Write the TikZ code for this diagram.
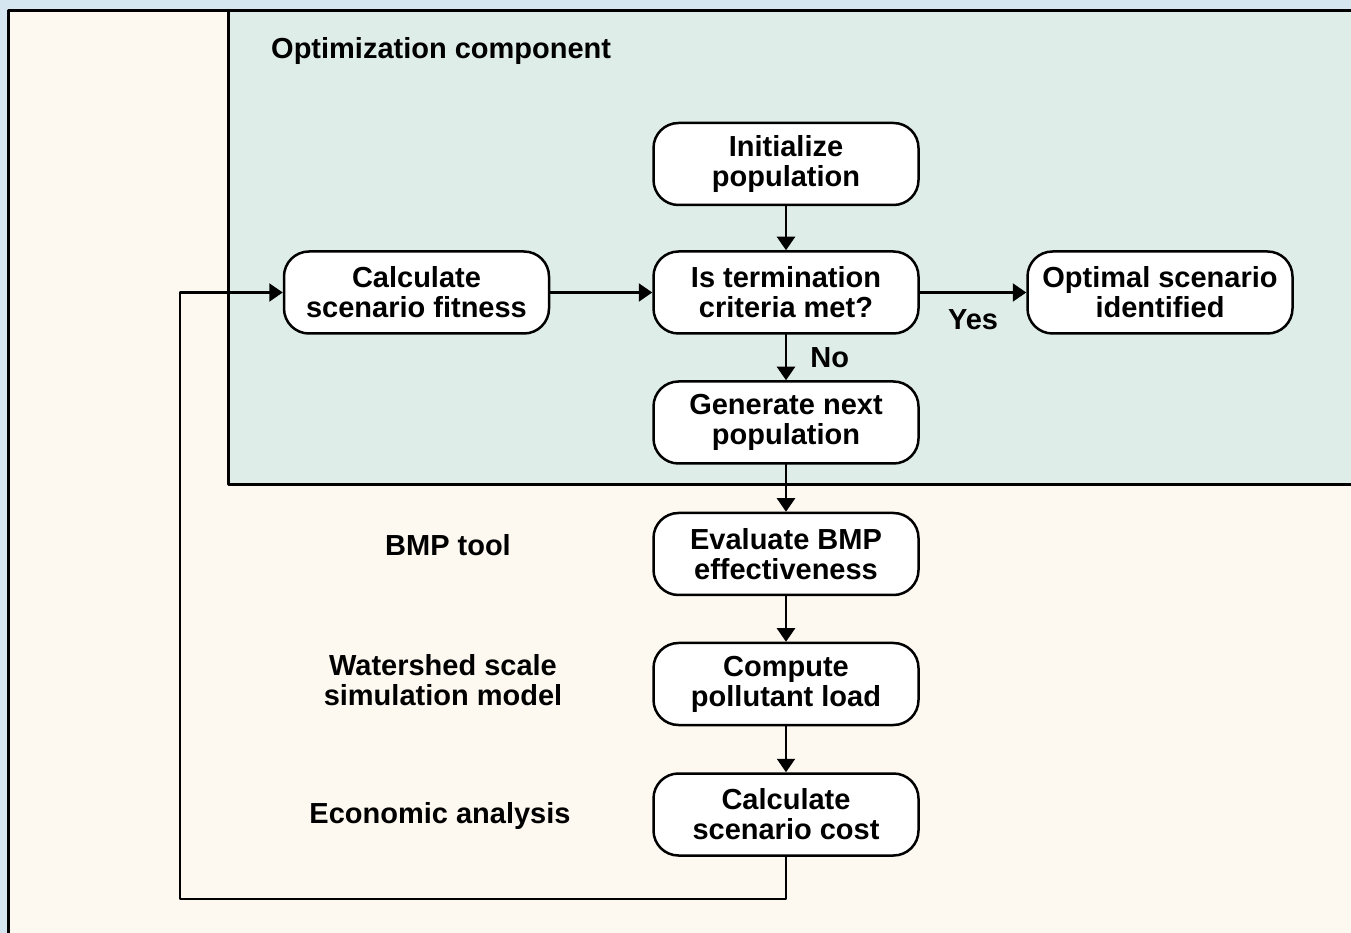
\documentclass[tikz,border=0pt]{standalone}
\usepackage{fontspec}
\setmainfont{Liberation Sans}
\usetikzlibrary{arrows.meta}
\usetikzlibrary{positioning}
\definecolor{bgblue}{RGB}{214,230,241}
\definecolor{beige}{RGB}{253,248,240}
\definecolor{teal}{RGB}{223,237,233}
\tikzset{
  stepbox/.style={draw,line width=0.05cm,fill=white,rounded corners=0.5cm,
    minimum width=5.3cm,minimum height=1.64cm,align=center,inner sep=2pt},
  tag/.style={align=center},
  flow/.style={->,line width=0.045cm}
}
\begin{document}
\begin{tikzpicture}[line cap=round,line join=round,>={Triangle[length=0.27cm,width=0.36cm]},x=1cm,y=1cm,
  font=\fontsize{16.5}{17}\selectfont\bfseries]
\clip(0,-18.66) rectangle (27.02,0);
\fill [bgblue] (0,-18.66) rectangle (27.02,0);
\draw [line width=0.06cm,fill=beige] (0.16,-19.2) rectangle (27.6,-0.22);
\draw [line width=0.06cm,fill=teal] (4.56,-9.7) rectangle (27.6,-0.22);
\node[anchor=west] (opttitle) at (5.3,-1.02) {Optimization component};
% optimization loop
\node[stepbox] (init) at (15.72,-3.28) {Initialize\\population};
\node[stepbox] (term) at (15.72,-5.85) {Is termination\\criteria met?};
\node[stepbox] (fit) at (8.33,-5.85) {Calculate\\scenario fitness};
\node[stepbox] (opt) at (23.2,-5.85) {Optimal scenario\\identified};
\node[stepbox] (gen) at (15.72,-8.45) {Generate next\\population};
% simulation part
\node[stepbox] (eval) at (15.72,-11.08) {Evaluate BMP\\effectiveness};
\node[stepbox] (load) at (15.72,-13.68) {Compute\\pollutant load};
\node[stepbox] (cost) at (15.72,-16.29) {Calculate\\scenario cost};
\node[tag] (bmp) at (8.96,-10.9) {BMP tool};
\node[tag] (shed) at (8.86,-13.6) {Watershed scale\\simulation model};
\node[tag] (econ) at (8.8,-16.32) {Economic analysis};
\coordinate (back) at (3.6,-17.98);
\draw [flow] (init) -- (term);
\draw [flow] (fit) -- (term);
\draw [flow] (term) -- node[below=0.2cm] {Yes} (opt);
\draw [flow] (term) -- node[right=0.35cm] {No} (gen);
\draw [flow] (gen) -- (eval);
\draw [flow] (eval) -- (load);
\draw [flow] (load) -- (cost);
\draw [flow] (cost.south) |- (back) |- (fit.west);
\end{tikzpicture}
\end{document}
